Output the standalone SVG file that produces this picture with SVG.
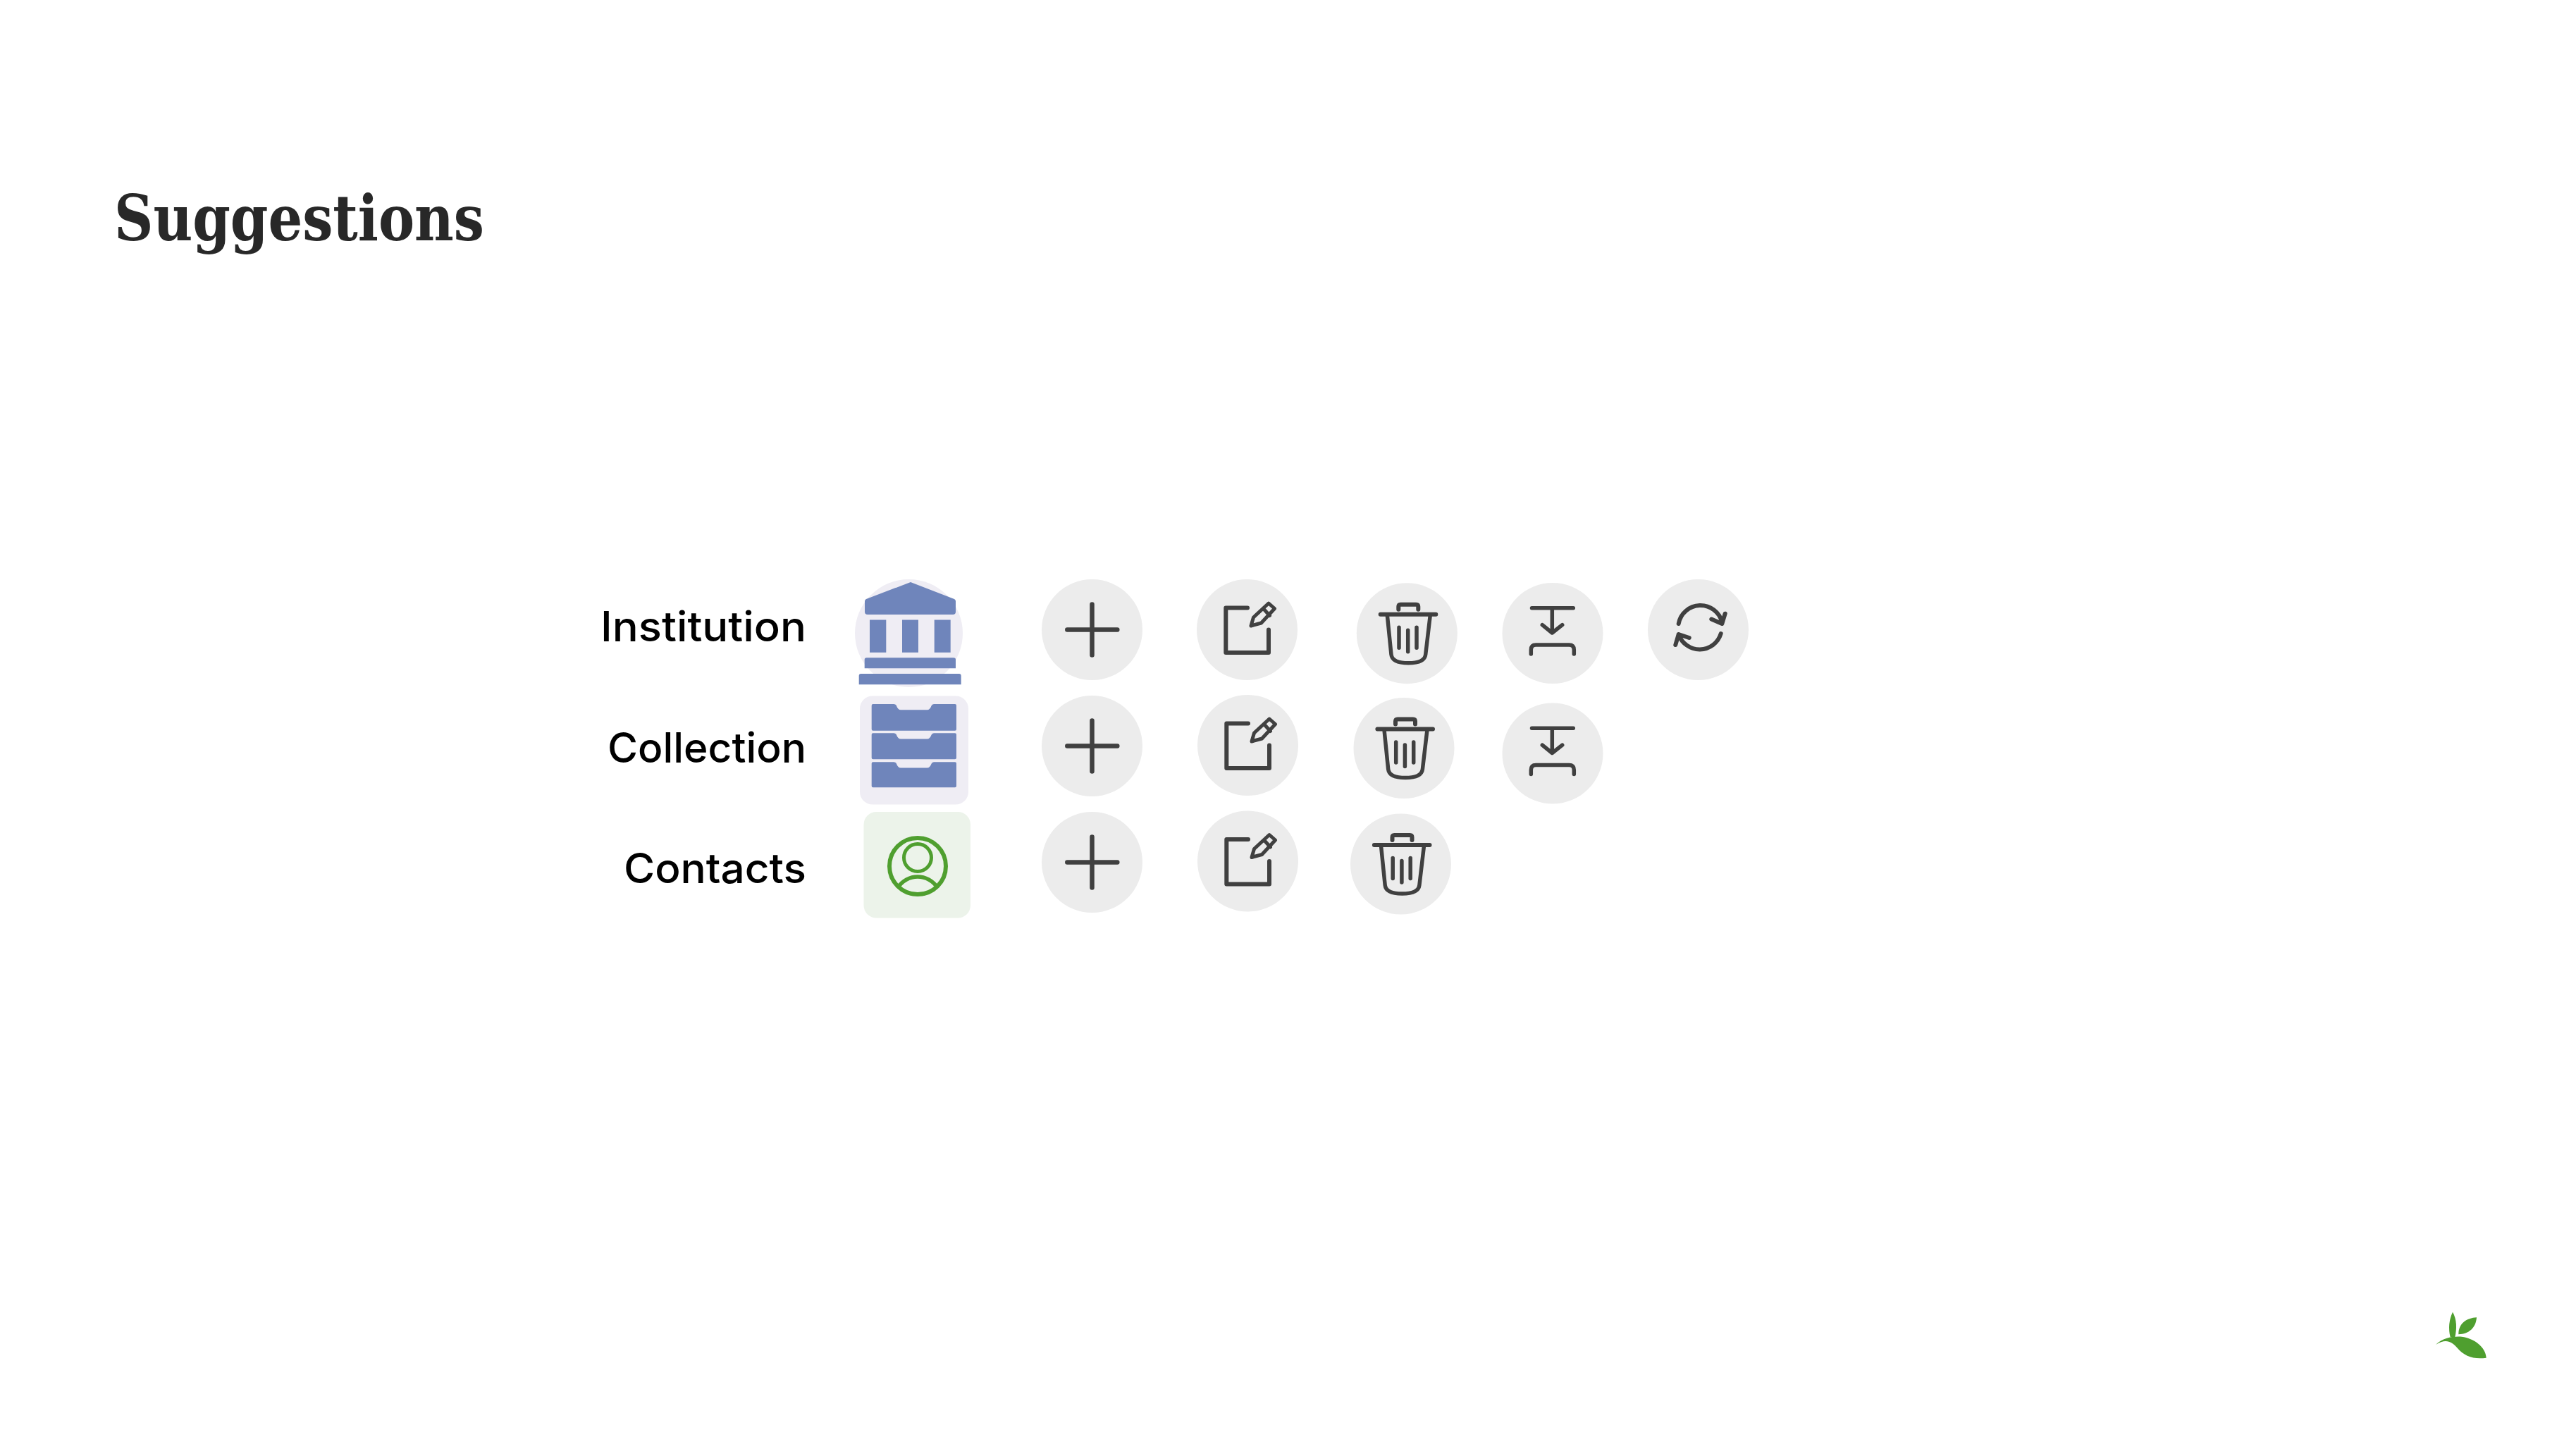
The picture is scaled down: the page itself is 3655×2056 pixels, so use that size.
<svg xmlns="http://www.w3.org/2000/svg" width="3655" height="2056" viewBox="0 0 3655 2056">
<style>
.lbl{font-family:"Inter","Noto Sans",sans-serif;font-size:59.5px;font-weight:450;fill:#000}
.ttl{font-family:"DejaVu Serif","Liberation Serif",serif;font-weight:700;font-size:90px;fill:#282828}
.btn{fill:#ececec}
.ic{fill:none;stroke:#404040;stroke-width:5.5;stroke-linecap:round;stroke-linejoin:round}
.blue{fill:#6f85bb}
</style>
<defs>
<g id="i-add"><circle class="btn" r="71.5"/><path class="ic" d="M-35.200 0H35.800M0 -36V36" style="stroke-width:6.5"/></g>
<g id="i-edit"><circle class="btn" r="71.5"/><path class="ic" d="M0.500 -31H-30.200V32.500H30.500V0" style="stroke-width:6"/><path class="ic" d="M30.500 -37.500L39 -30L20 -9.500L5.500 -5.500L9 -17.500ZM23 -30L32 -20" style="stroke-width:5"/></g>
<g id="i-trash"><circle class="btn" r="71.500"/><path class="ic" d="M-37.600 -27H41M-12 -34V-38Q-12 -41 -9 -41H13Q16 -41 16 -38V-34" style="stroke-width:6"/><path class="ic" d="M-28 -26L-22.300 30Q-21 42 2 42Q25 42 26.400 30L33 -26M-11.300 -8.500V20.500M1.400 -4.500V26M13.700 -8.500V20.500" style="stroke-width:5.500"/></g>
<g id="i-merge"><circle class="btn" r="71.500"/><path class="ic" d="M-29.500 -35.800H29.300M-0.700 -35.800V-0.500M-14.700 -11.800L-0.700 -0.500L13.700 -11.800M-30.700 29.500V23.500Q-30.700 16.500 -23.700 16.500H23.300Q30.300 16.500 30.300 23.500V29.500"/></g>
</defs>

<g id="title"><text class="ttl" x="162" y="341" textLength="525" lengthAdjust="spacingAndGlyphs">Suggestions</text></g>

<g id="label-institution"><text class="lbl" x="852" y="910" textLength="292" lengthAdjust="spacingAndGlyphs">Institution</text></g>
<g id="label-collection"><text class="lbl" x="862" y="1082" textLength="282" lengthAdjust="spacingAndGlyphs">Collection</text></g>
<g id="label-contacts"><text class="lbl" x="885" y="1252.500" textLength="259" lengthAdjust="spacingAndGlyphs">Contacts</text></g>

<g id="icon-institution">
<circle cx="1289.500" cy="898.500" r="76.500" fill="#efedf4"/>
<path class="blue" d="M1292 826L1354 850Q1356 851 1356 853V868Q1356 872 1352 872H1231Q1227 872 1227 868V853Q1227 851 1229 850Z"/>
<rect class="blue" x="1234" y="879.500" width="23.300" height="46.300"/>
<rect class="blue" x="1280" y="879.500" width="23" height="46.300"/>
<rect class="blue" x="1325.700" y="879.500" width="23" height="46.300"/>
<path class="blue" d="M1226.700 948.300V936Q1226.700 933.300 1229.500 933.300H1353Q1356 933.300 1356 936V948.300Z"/>
<path class="blue" d="M1218.700 971.300V959Q1218.700 956 1221.500 956H1361Q1363.700 956 1363.700 959V971.300Z"/>
</g>

<g id="icon-collection">
<rect x="1220" y="987.500" width="154" height="154" rx="18" fill="#efedf4"/>
<path class="blue" d="M1238.700 999H1268.500Q1271 999 1272 1001.500Q1274 1007.300 1278 1007.300H1315.500Q1319.500 1007.300 1321.500 1001.500Q1322.500 999 1325 999H1355Q1357 999 1357 1001V1034.700Q1357 1036.700 1355 1036.700H1238.700Q1236.700 1036.700 1236.700 1034.700V1001Q1236.700 999 1238.700 999Z"/>
<path class="blue" d="M1238.700 1040.300H1268.500Q1271 1040.300 1272 1042.800Q1274 1048.600 1278 1048.600H1315.500Q1319.500 1048.600 1321.500 1042.800Q1322.500 1040.300 1325 1040.300H1355Q1357 1040.300 1357 1042.300V1075.300Q1357 1077.300 1355 1077.300H1238.700Q1236.700 1077.300 1236.700 1075.300V1042.300Q1236.700 1040.300 1238.700 1040.300Z"/>
<path class="blue" d="M1238.700 1081.300H1268.500Q1271 1081.300 1272 1083.800Q1274 1089.600 1278 1089.600H1315.500Q1319.500 1089.600 1321.500 1083.800Q1322.500 1081.300 1325 1081.300H1355Q1357 1081.300 1357 1083.300V1115.300Q1357 1117.300 1355 1117.300H1238.700Q1236.700 1117.300 1236.700 1115.300V1083.300Q1236.700 1081.300 1238.700 1081.300Z"/>
</g>

<g id="icon-contacts" fill="none" stroke="#4f9f2f">
<rect x="1225.500" y="1152" width="151.500" height="150.500" rx="18" fill="#ecf3ea" stroke="none"/>
<circle cx="1302" cy="1229" r="40" stroke-width="6"/>
<circle cx="1302" cy="1217" r="19.500" stroke-width="5"/>
<path d="M1273 1260Q1285 1244 1302 1244Q1319 1244 1331 1260" stroke-width="5.500"/>
</g>

<g id="add-institution"><use href="#i-add" x="1549.500" y="893.500"/></g>
<g id="add-collection"><use href="#i-add" x="1549.500" y="1058.500"/></g>
<g id="add-contacts"><use href="#i-add" x="1549.500" y="1223.500"/></g>
<g id="edit-institution"><use href="#i-edit" x="1769.500" y="893.500"/></g>
<g id="edit-collection"><use href="#i-edit" x="1770.500" y="1057.500"/></g>
<g id="edit-contacts"><use href="#i-edit" x="1770.500" y="1222"/></g>
<g id="delete-institution"><use href="#i-trash" x="1996.300" y="898.700"/></g>
<g id="delete-collection"><use href="#i-trash" x="1992" y="1061.500"/></g>
<g id="delete-contacts"><use href="#i-trash" x="1987.500" y="1226"/></g>
<g id="merge-institution"><use href="#i-merge" x="2203" y="898.500"/></g>
<g id="merge-collection"><use href="#i-merge" x="2203" y="1069"/></g>
<g id="refresh-institution">
<circle class="btn" cx="2409.500" cy="893.500" r="71.500"/>
<path class="ic" d="M2381.700 885A31.500 31.500 0 0 1 2443.300 883M2428.300 878.500L2443.300 885L2447.700 870.700M2441.700 899A31.500 31.500 0 0 1 2381.700 900M2396.700 905L2381.700 900L2377.300 915" style="stroke-width:6"/>
</g>

<g id="logo">
<path fill="#4f9f2f" d="M3480 1861.700C3475 1872 3473.500 1885 3476.700 1897.300L3483.300 1897.300C3486 1885 3486 1872 3480 1861.700Z"/>
<path fill="#4f9f2f" d="M3514 1869.300C3500 1870 3488 1878 3488.300 1893.300C3503 1893 3513 1884 3514 1869.300Z"/>
<path fill="#4f9f2f" d="M3456 1908C3466 1898 3480 1896 3493 1896.700C3510 1899 3527 1911 3527.700 1926.700C3510 1929 3497 1925 3486 1912C3478 1903 3470 1899 3456 1908Z"/>
</g>
</svg>
